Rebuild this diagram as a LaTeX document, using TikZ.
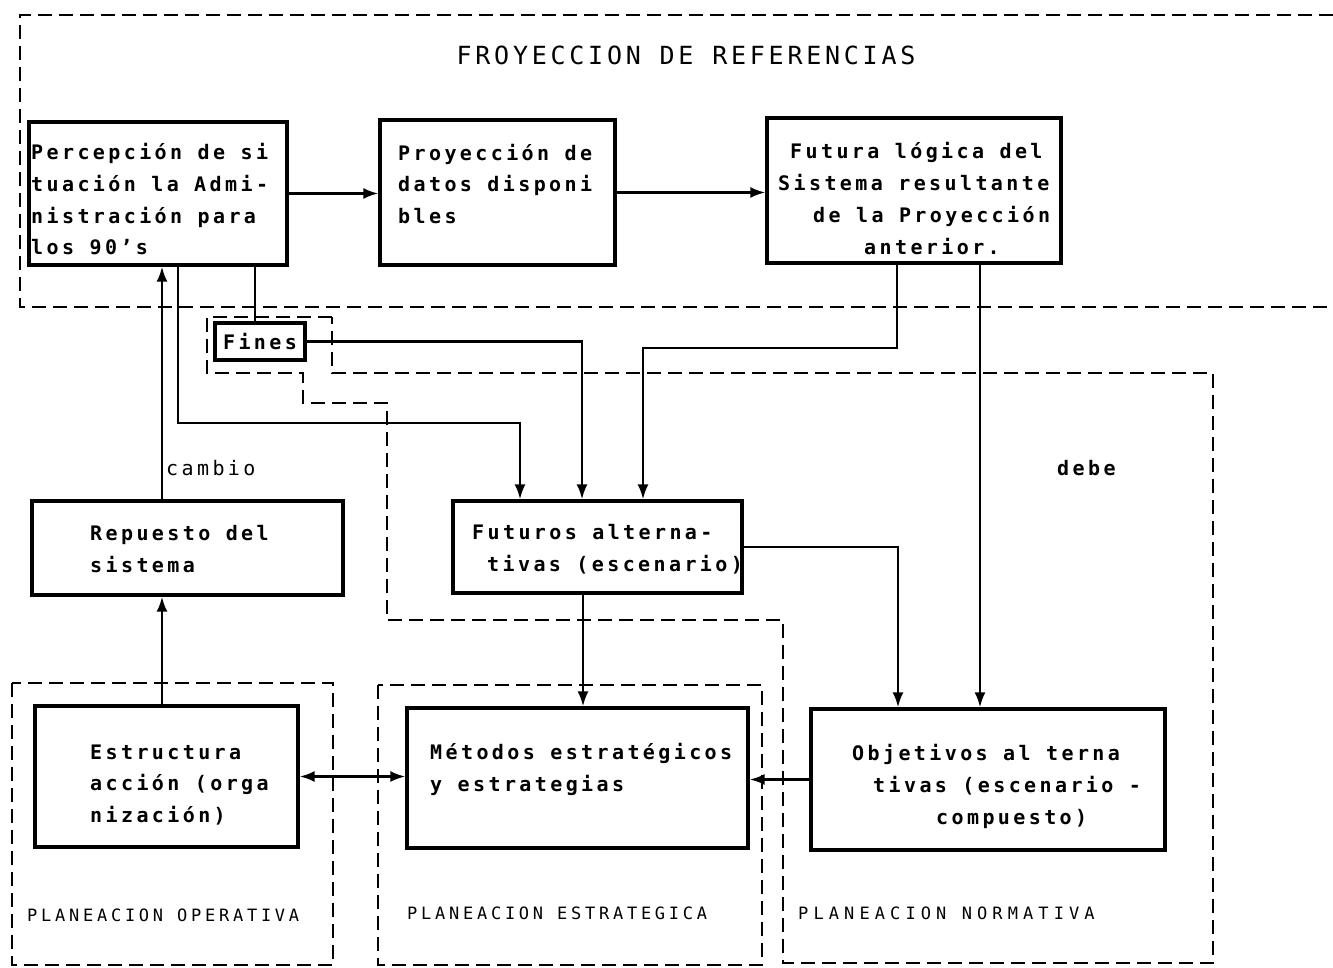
\documentclass[tikz,border=0pt]{standalone}
\usepackage{fontspec}
\usetikzlibrary{arrows.meta}
\newfontfamily\boxfont[LetterSpace=17]{DejaVu Sans Mono}
\newfontfamily\titlefont[LetterSpace=15]{DejaVu Sans Mono}
\newfontfamily\labfont[LetterSpace=22]{DejaVu Sans Mono}
\begin{document}
\begin{tikzpicture}[x=1pt,y=-1pt,line join=miter,
  boxframe/.style={draw,line width=3.2pt,inner sep=0pt},
  boxtxt/.style={font={\boxfont\bfseries\fontsize{20pt}{31.7pt}\selectfont},inner sep=0pt,align=left,anchor=west},
  plaintxt/.style={font={\boxfont\fontsize{20pt}{31.7pt}\selectfont},inner sep=0pt,anchor=west},
  regiontxt/.style={font={\labfont\fontsize{17pt}{20pt}\selectfont},inner sep=0pt,anchor=west},
  conn/.style={line width=2.5pt},
  arr/.style={conn,-{Latex[length=15pt,width=11pt]}},
  arrboth/.style={conn,{Latex[length=15pt,width=11pt]}-{Latex[length=15pt,width=11pt]}},
  dsh/.style={line width=2.3pt,dash pattern=on 14pt off 7pt}]
\useasboundingbox (0,0) rectangle (1333,968);
\fill[white] (0,0) rectangle (1333,968);

% dashed regions
\draw[dsh] (1333,15) -- (20,15) -- (20,307) -- (1333,307);
\draw[dsh] (332,317) -- (207,317) -- (207,373) -- (303,373) -- (303,403) -- (387,403) -- (387,620) -- (783,620) -- (783,963) -- (1213,963) -- (1213,373) -- (332,373) -- cycle;
\draw[dsh] (12,683) rectangle (333,965);
\draw[dsh] (378,685) rectangle (762,965);

% title
\node[font={\titlefont\fontsize{25pt}{30pt}\selectfont},inner sep=0pt] (title) at (686,55) {FROYECCION DE REFERENCIAS};

% boxes
\node[boxframe,minimum width=258pt,minimum height=143pt] (b1) at (158,193.5) {};
\node[boxtxt] (t1) at (31,199.5) {Percepción de si\\tuación la Admi-\\nistración para\\los 90’s};

\node[boxframe,minimum width=235pt,minimum height=145pt] (b2) at (497.5,192.5) {};
\node[boxtxt] (t2) at (398,184) {Proyección de\\datos disponi\\bles};

\node[boxframe,minimum width=294pt,minimum height=145pt] (b3) at (914,190.5) {};
\node[boxtxt] (t3) at (778,198.5) {\hspace*{12pt}Futura lógica del\\Sistema resultante\\\hspace*{35pt}de la Proyección\\\hspace*{86pt}anterior.};

\node[boxframe,minimum width=90pt,minimum height=37pt,font={\boxfont\bfseries\fontsize{20pt}{22pt}\selectfont}] (fines) at (260,341.5) {Fines};

\node[boxframe,minimum width=311pt,minimum height=94pt] (rep) at (187.5,548) {};
\node[boxtxt] (trep) at (90,549) {Repuesto del\\sistema};

\node[boxframe,minimum width=289pt,minimum height=92pt] (fut) at (597.5,547) {};
\node[boxtxt] (tfut) at (472,549) {Futuros alterna-\\\hspace*{15pt}tivas (escenario)};

\node[boxframe,minimum width=263pt,minimum height=141pt] (est) at (166.5,776.5) {};
\node[boxtxt] (test) at (90,785) {Estructura\\acción (orga\\nización)};

\node[boxframe,minimum width=341pt,minimum height=140pt] (met) at (577.5,778) {};
\node[boxtxt] (tmet) at (430,769.5) {Métodos estratégicos\\y estrategias};

\node[boxframe,minimum width=354pt,minimum height=141pt] (obj) at (988,779.5) {};
\node[boxtxt] (tobj) at (852,786.5) {Objetivos al terna\\\hspace*{21pt}tivas (escenario -\\\hspace*{84pt}compuesto)};

% free labels
\node[plaintxt] (cambio) at (166,468) {cambio};
\node[plaintxt,font={\boxfont\bfseries\fontsize{20pt}{22pt}\selectfont}] (debe) at (1057,468) {debe};
\node[regiontxt] (lop) at (27,915) {PLANEACION OPERATIVA};
\node[regiontxt] (lest) at (407,913) {PLANEACION ESTRATEGICA};
\node[regiontxt,font={\labfont\addfontfeatures{LetterSpace=30}\fontsize{17pt}{20pt}\selectfont}] (lnor) at (798,913) {PLANEACION NORMATIVA};

% connectors
\draw[arr] (b1.east) -- (b1.east -| b2.west);
\draw[arr] (b2.east) -- (b2.east -| b3.west);
\draw[conn] (b1.south -| 255,0) -- (fines.north -| 255,0);
\draw[arr] (rep.north -| 162,0) -- (b1.south -| 162,0);
\draw[arr] (est.north -| 162,0) -- (rep.south -| 162,0);
\draw[arr] (b1.south -| 178,0) -- (178,423) -- (520,423) -- (fut.north -| 520,0);
\draw[arr] (fines.east) -| (fut.north -| 582,0);
\draw[arr] (b3.south -| 897,0) |- (643,348) -- (fut.north -| 643,0);
\draw[arr] (b3.south -| 980,0) -- (obj.north -| 980,0);
\draw[arr] (fut.east) -| (obj.north -| 898,0);
\draw[arr] (fut.south -| 583,0) -- (met.north -| 583,0);
\draw[arrboth] (est.east) -- (est.east -| met.west);
\draw[arr] (obj.west) -- (obj.west -| met.east);
\end{tikzpicture}
\end{document}
